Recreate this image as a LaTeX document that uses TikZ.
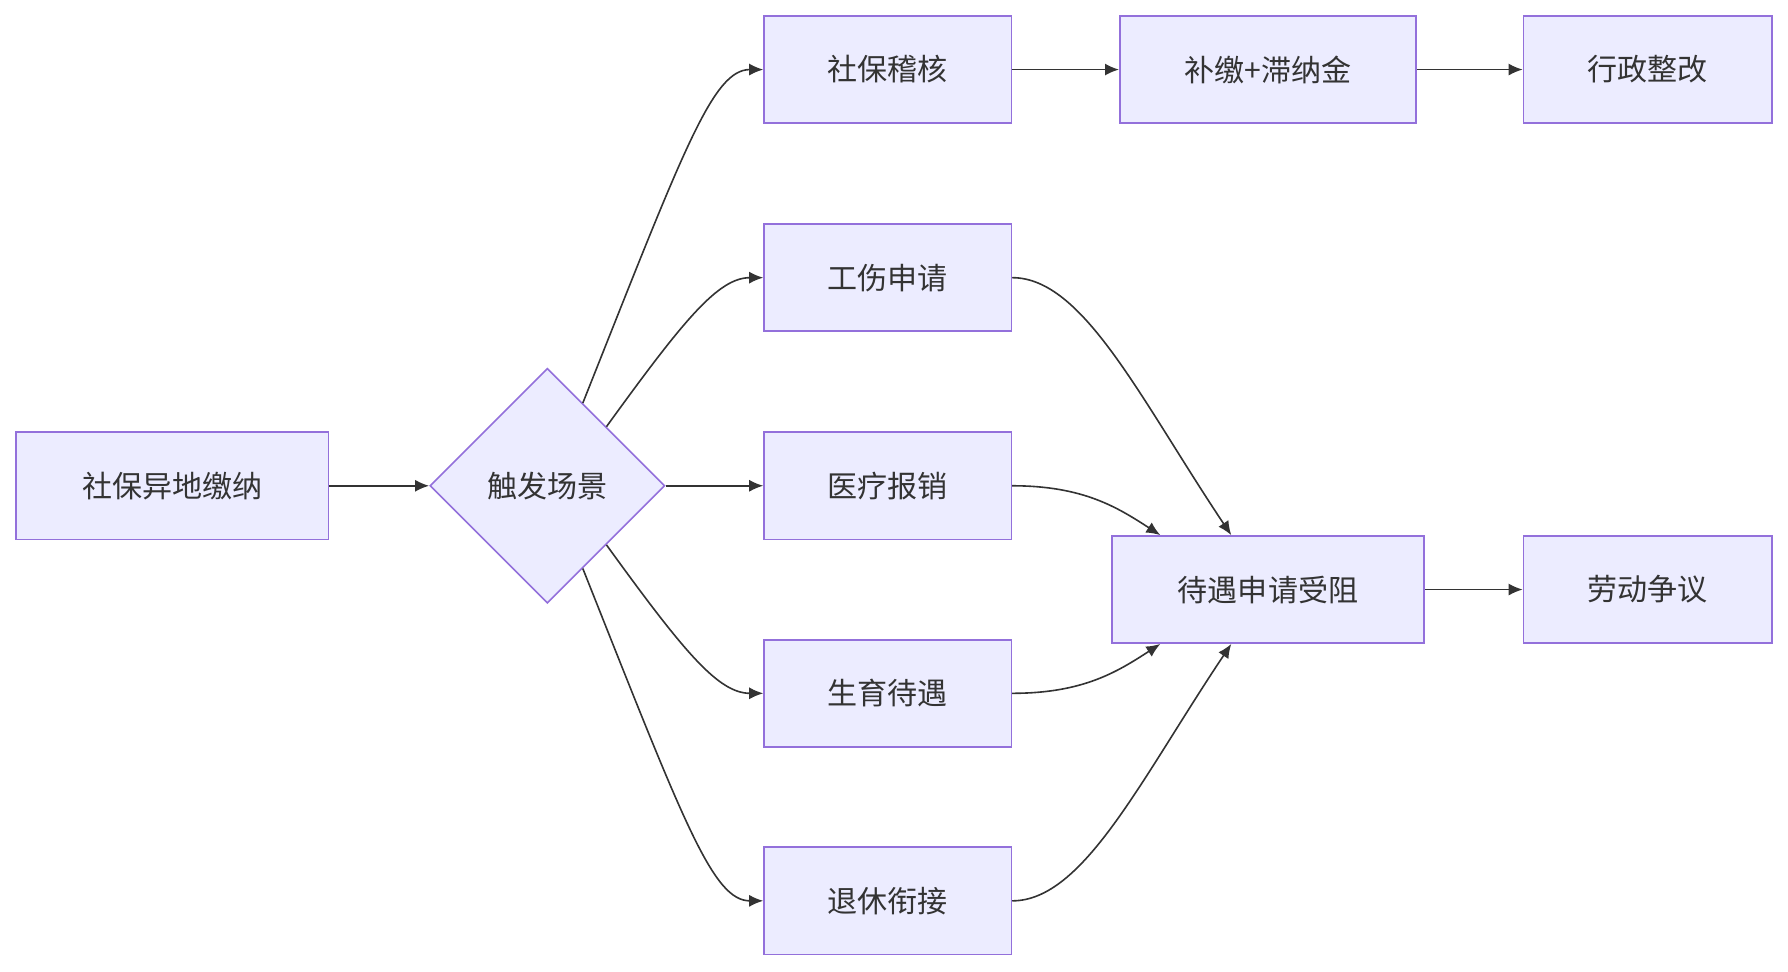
\documentclass[tikz,border=0pt]{standalone}
\usepackage{fontspec}
\setmainfont{Noto Sans CJK SC}
\usetikzlibrary{shapes.geometric,calc,arrows.meta}
\definecolor{nf}{HTML}{ECECFF}
\definecolor{nd}{HTML}{9370DB}
\definecolor{tx}{HTML}{333333}
\begin{document}
\begin{tikzpicture}[x=0.02cm,y=-0.02cm,
 box/.style={draw=nd,fill=nf,line width=0.8pt,text=tx,font=\fontsize{15}{18}\selectfont,minimum height=1.88cm,inner sep=0pt},
 ar/.style={draw=tx,line width=0.8pt,-{Latex[length=7pt,width=6pt]}}]
\useasboundingbox (0,0) rectangle (1568,852);
\node[box,minimum width=5.48cm] (a) at (151,426) {社保异地缴纳};
\node[box,diamond,minimum width=4.12cm,minimum height=4.12cm] (d) at (480,426) {触发场景};
\node[box,minimum width=4.34cm] (n1) at (778.5,61) {社保稽核};
\node[box,minimum width=4.34cm] (n2) at (778.5,243.5) {工伤申请};
\node[box,minimum width=4.34cm] (n3) at (778.5,426) {医疗报销};
\node[box,minimum width=4.34cm] (n4) at (778.5,608) {生育待遇};
\node[box,minimum width=4.34cm] (n5) at (778.5,790) {退休衔接};
\node[box,minimum width=5.2cm] (b) at (1112,61) {补缴+滞纳金};
\node[box,minimum width=4.36cm] (c) at (1445,61) {行政整改};
\node[box,minimum width=5.48cm] (w) at (1112,517) {待遇申请受阻};
\node[box,minimum width=4.36cm] (l) at (1445,517) {劳动争议};
\draw[ar] (a) -- (d);
\draw[ar] ($(d.north)!0.3!(d.east)$) .. controls (600,130) and (625,61) .. (n1.west);
\draw[ar] (d.north east) .. controls (600,280) and (630,243.5) .. (n2.west);
\draw[ar] (d.east) -- (n3.west);
\draw[ar] (d.south east) .. controls (600,572) and (630,608) .. (n4.west);
\draw[ar] ($(d.south)!0.3!(d.east)$) .. controls (600,722) and (625,790) .. (n5.west);
\draw[ar] (n1) -- (b);
\draw[ar] (b) -- (c);
\draw[ar] (w) -- (l);
\draw[ar] (n2.east) .. controls (950,243.5) and (1000,350) .. ($(w.north west)!0.383!(w.north east)$);
\draw[ar] (n3.east) .. controls (950,426) and (980,445) .. ($(w.north west)!0.157!(w.north east)$);
\draw[ar] (n4.east) .. controls (950,608) and (980,589) .. ($(w.south west)!0.157!(w.south east)$);
\draw[ar] (n5.east) .. controls (950,790) and (1000,684) .. ($(w.south west)!0.383!(w.south east)$);
\end{tikzpicture}
\end{document}
